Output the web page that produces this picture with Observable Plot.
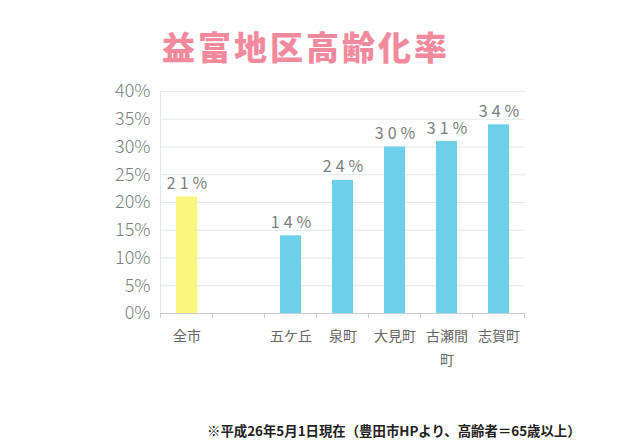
<!DOCTYPE html>
<html><head><meta charset="utf-8">
<script src="https://cdn.jsdelivr.net/npm/d3@7"></script>
<script src="https://cdn.jsdelivr.net/npm/@observablehq/plot@0.6"></script>
<style>
body{margin:0;background:#fff;width:639px;height:448px;overflow:hidden;font-family:"Noto Sans CJK JP","Noto Sans",sans-serif;}
#title{height:75px;box-sizing:border-box;padding-top:26px;padding-left:162px;font-size:33px;font-weight:900;color:#f28a9e;letter-spacing:3px;line-height:40px;}
#note{position:absolute;left:207px;top:420px;font-size:13.4px;font-weight:700;color:#222;white-space:nowrap;}
#chart svg g[aria-label="text"] text{letter-spacing:4px;}
</style></head>
<body>
<div id="title">益富地区高齢化率</div>
<div id="chart"></div>
<div id="note">※平成26年5月1日現在（豊田市HPより、高齢者＝65歳以上）</div>
<script>
const categories = ["全市", " ", "五ケ丘", "泉町", "大見町", "古瀬間町", "志賀町"];
const tickLabels = ["全市", "", "五ケ丘", "泉町", "大見町", "古瀬間\n町", "志賀町"];
const barCats = ["全市", "五ケ丘", "泉町", "大見町", "古瀬間町", "志賀町"];
const values = [21, 14, 24, 30, 31, 34];
const barColors = ["#fbf77c", "#6dcfea", "#6dcfea", "#6dcfea", "#6dcfea", "#6dcfea"];
const yTicks = [0, 5, 10, 15, 20, 25, 30, 35, 40];

const data = barCats.map((c, i) => ({cat: c, value: values[i], color: barColors[i]}));

const chart = Plot.plot({
  width: 639, height: 310,
  marginLeft: 160, marginRight: 114, marginTop: 16, marginBottom: 72,
  style: {fontFamily: '"Noto Sans CJK JP", sans-serif', background: "transparent"},
  x: {domain: categories, paddingInner: 0.6, paddingOuter: 0.3, label: null},
  y: {domain: [0, 40], label: null},
  marks: [
    Plot.ruleY(yTicks, {stroke: "#e3e8ee", strokeWidth: 1}),
    Plot.frame({anchor: "left", stroke: "#e3e8ee"}),
    Plot.axisY({ticks: yTicks, tickFormat: d => d + "%", tickSize: 0, tickPadding: 10, fontSize: 18, fill: "#7a7f80", fontWeight: 300}),
    Plot.axisX({tickSize: 0, tickPadding: 11, fontSize: 14, fill: "#666", lineHeight: 1.7,
      tickFormat: d => tickLabels[categories.indexOf(d)]}),
    Plot.barY(data, {x: "cat", y: "value", fill: "color"}),
    Plot.ruleY([0], {stroke: "#c8cdd0"}),
    Plot.text(data, {x: "cat", y: "value", text: d => d.value + "%", dy: -13, dx: 2, fontSize: 16, fill: "#7a7f80"})
  ]
});
document.getElementById("chart").appendChild(chart);

// slot-boundary tick marks below the baseline, derived from the x scale
const xs = chart.scale("x"), ys = chart.scale("y");
const y0 = ys.apply(0);
const centers = categories.map(c => xs.apply(c) + xs.bandwidth / 2);
const half = xs.step / 2;
const bounds = centers.map(c => c - half).concat([centers[centers.length - 1] + half]);
d3.select(chart).append("g").selectAll("line").data(bounds).join("line")
  .attr("x1", d => d).attr("x2", d => d).attr("y1", y0).attr("y2", y0 + 5)
  .attr("stroke", "#c8cdd0");
</script>
</body></html>
